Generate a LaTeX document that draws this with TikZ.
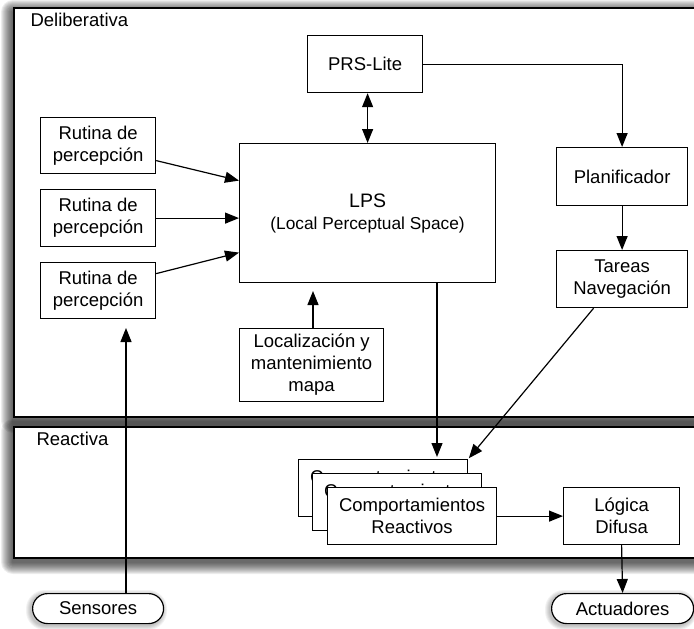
\documentclass[tikz,border=0pt]{standalone}
\usepackage{fontspec}
\setmainfont{Liberation Sans}
\usetikzlibrary{arrows.meta}

% soft drop shadow built from stacked translucent rectangles
% #1,#2 = top-left corner, #3,#4 = bottom-right corner,
% #5 = layers, #6 = down offset, #7 = opacity per layer, #8 = base corner radius
\newcommand{\softshade}[8]{%
  \foreach \k in {1,...,#5}{%
    \pgfmathsetmacro{\rr}{#8+\k}%
    \fill[black,opacity=#7,rounded corners=\rr pt]
      (#1-\k-1,#2-\k+#6) rectangle (#3+\k-1,#4+\k+#6);}}

\tikzset{
  txt/.style={font=\fontsize{18.5}{22}\selectfont},
  box/.style={txt,draw=black,line width=1.2pt,fill=white,inner sep=0pt,
              align=center,anchor=north west},
  pill/.style={box,rounded corners=15pt},
  layer/.style={draw=black,line width=1.3pt,fill=white},
  tip/.style={},
  arr/.style={line width=1.2pt,-{Triangle[length=14pt,width=11pt]}},
  arrboth/.style={line width=1.2pt,{Triangle[length=14pt,width=11pt]}-{Triangle[length=14pt,width=11pt]}},
}

\begin{document}
\begin{tikzpicture}[x=1pt,y=-1pt]
\useasboundingbox (0,0) rectangle (694,629);

% the two layers with their shadows
\softshade{14}{8}{720}{417}{12}{4}{0.07}{0}
\softshade{14}{427}{720}{558}{12}{4}{0.07}{0}
\draw[layer] (14,427) rectangle (720,558);
\draw[layer] (14,8) rectangle (720,417);
\node[txt,anchor=west] (tdelib) at (27,20) {Deliberativa};
\node[txt,anchor=west] (treact) at (33,439) {Reactiva};

% deliberative components
\node[box,minimum width=115pt,minimum height=57pt] (prs) at (307,35) {PRS-Lite};
\node[box,minimum width=256pt,minimum height=139pt] (lps) at (239,143)
  {\fontsize{19.5}{22}\selectfont LPS\\\fontsize{17.3}{20}\selectfont(Local Perceptual Space)};
\node[box,minimum width=115pt,minimum height=56pt] (r1) at (40,117) {Rutina de\\percepción};
\node[box,minimum width=115pt,minimum height=57pt] (r2) at (40,189) {Rutina de\\percepción};
\node[box,minimum width=115pt,minimum height=56pt] (r3) at (40,262) {Rutina de\\percepción};
\node[box,minimum width=144pt,minimum height=73pt] (loc) at (239,328)
  {Localización y\\mantenimiento\\mapa};
\node[box,minimum width=131pt,minimum height=58pt] (plan) at (556,147) {Planificador};
\node[box,minimum width=131pt,minimum height=57pt] (tar) at (556,250) {Tareas\\Navegación};

% reactive components
\node[box,minimum width=169pt,minimum height=57pt] (cb) at (298,459) {Comportamientos\\Reactivos};
\node[box,minimum width=169pt,minimum height=57pt] (cm) at (312,473) {Comportamientos\\Reactivos};
\node[box,minimum width=169pt,minimum height=57pt] (cf) at (327,487) {Comportamientos\\Reactivos};
\node[box,minimum width=116pt,minimum height=57pt] (log) at (563,487) {Lógica\\Difusa};

% sensors and actuators
\softshade{32}{593}{163}{623}{5}{2}{0.05}{14}
\softshade{551}{593}{693}{623}{5}{2}{0.05}{14}
\node[pill,minimum width=131pt,minimum height=30pt] (sens) at (32,593) {Sensores};
\node[pill,minimum width=142pt,minimum height=30pt] (act) at (551,593) {Actuadores};

% free arrow ends
\coordinate (sin) at (126,328);
\coordinate (lin) at (313,291);
\coordinate (ctop) at (437,457);

% connectors
\draw[arr] (prs.east) -| (plan.north);
\draw[arrboth] (prs.south -| lps.north) -- (lps.north);
\draw[arr] (plan) -- (tar);
\draw[arr] ([yshift=-15pt]r1.east) -- ([yshift=32.5pt]lps.west);
\draw[arr] (r2.east) -- (r2.east -| lps.west);
\draw[arr] ([yshift=17pt]r3.east) -- ([yshift=-39.5pt]lps.west);
\draw[arr] (sens.north -| sin) -- (sin);
\draw[arr] (loc.north -| lin) -- (lin);
\draw[arr] (lps.south -| ctop) -- (ctop);
\draw[arr,shorten >=1pt] ([xshift=-28.5pt]tar.south) -- (cb.north east);
\draw[arr] (cf) -- (log);
\draw[arr] (log.south) -- (act.north);
\end{tikzpicture}
\end{document}
